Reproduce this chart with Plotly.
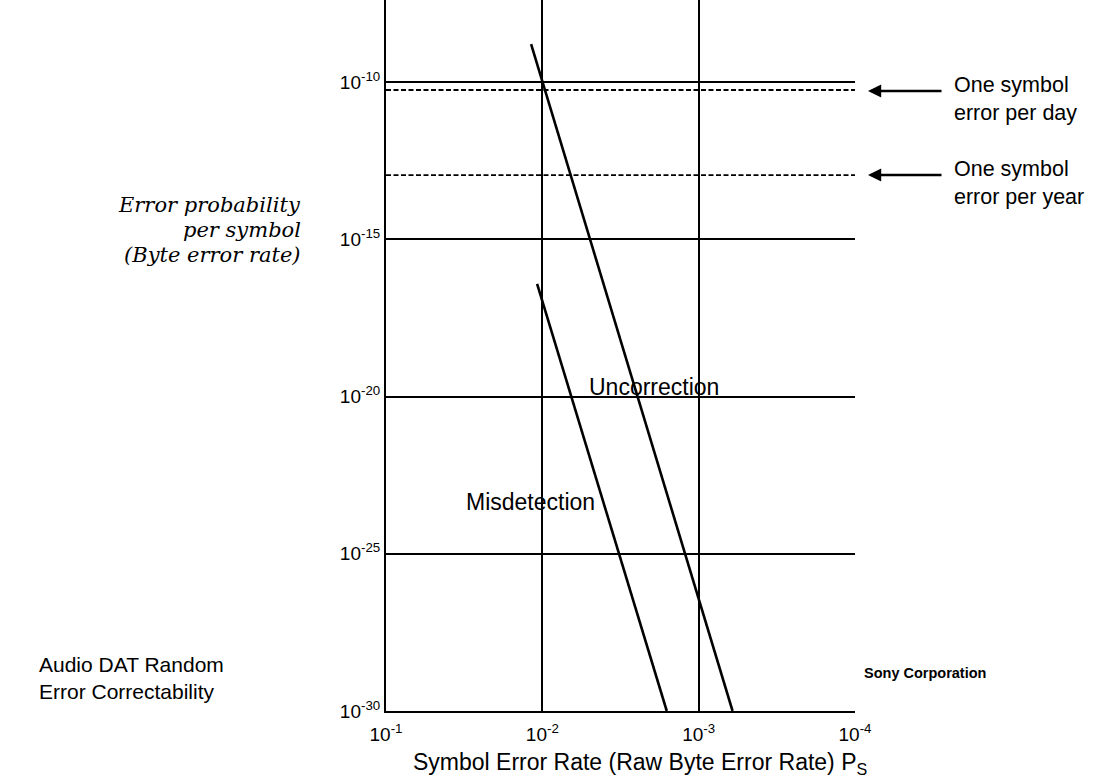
import plotly.graph_objects as go

# ---- data ----
x_ticks = [1e-1, 1e-2, 1e-3, 1e-4]
x_tick_text = ["10<sup>-1</sup>", "10<sup>-2</sup>", "10<sup>-3</sup>", "10<sup>-4</sup>"]
y_ticks = [1e-30, 1e-25, 1e-20, 1e-15, 1e-10]
y_tick_text = ["10<sup>-30</sup>", "10<sup>-25</sup>", "10<sup>-20</sup>", "10<sup>-15</sup>", "10<sup>-10</sup>"]

uncorrection_x = [1.18e-2, 6.07e-4]
uncorrection_y = [1.6e-9, 1e-30]
misdetection_x = [1.08e-2, 1.60e-3]
misdetection_y = [3.8e-17, 1e-30]

per_day_level = 5.6e-11
per_year_level = 1.1e-13
ref_x_span = [1e-1, 1e-4]

FONT = "Liberation Sans, Arial, Helvetica, sans-serif"
SERIF = "DejaVu Serif, serif"

fig = go.Figure()

# dashed reference levels
for lvl in [per_day_level, per_year_level]:
    fig.add_trace(go.Scatter(x=ref_x_span, y=[lvl, lvl], mode="lines",
                             line=dict(color="black", width=1.8, dash="5px,2.5px"),
                             hoverinfo="skip", showlegend=False))

fig.add_trace(go.Scatter(x=uncorrection_x, y=uncorrection_y, mode="lines",
                         line=dict(color="black", width=2.6), name="Uncorrection",
                         showlegend=False))
fig.add_trace(go.Scatter(x=misdetection_x, y=misdetection_y, mode="lines",
                         line=dict(color="black", width=2.6), name="Misdetection",
                         showlegend=False))

W, H = 1099, 783
L, R, T, B = 386, 244, 0, 72
pw = W - L - R
ph = H - T - B

def px(xp):
    return (xp - L) / pw

def py(yp):
    return (H - B - yp) / ph

fig.update_layout(
    width=W, height=H,
    margin=dict(l=L, r=R, t=T, b=B, pad=0),
    paper_bgcolor="white", plot_bgcolor="white",
    font=dict(family=FONT, color="black"),
    xaxis=dict(type="log", range=[-1, -4], tickvals=x_ticks, ticktext=x_tick_text,
               showgrid=True, gridcolor="black", gridwidth=2,
               showline=True, linecolor="black", linewidth=2,
               ticks="", ticklabelstandoff=5,
               tickfont=dict(size=19, family=FONT), zeroline=False),
    yaxis=dict(type="log", range=[-30, -7.39], tickvals=y_ticks, ticktext=y_tick_text,
               showgrid=True, gridcolor="black", gridwidth=2,
               showline=True, linecolor="black", linewidth=2,
               ticks="", tickfont=dict(size=19, family=FONT), zeroline=False),
)

ann = []
# arrows
for yp in [91, 175]:
    ann.append(dict(xref="paper", yref="paper", x=px(868), y=py(yp), ax=75, ay=0,
                    text="", showarrow=True, arrowhead=2, arrowsize=1.1,
                    arrowwidth=2.4, arrowcolor="black"))

ann += [
    dict(xref="paper", yref="paper", x=px(952), y=py(99), text="One symbol<br>error per day",
         showarrow=False, xanchor="left", yanchor="middle", align="left",
         font=dict(size=21.5, family=FONT)),
    dict(xref="paper", yref="paper", x=px(952), y=py(183), text="One symbol<br>error per year",
         showarrow=False, xanchor="left", yanchor="middle", align="left",
         font=dict(size=21.5, family=FONT)),
]
for txt, yp in [("Error probability", 205), ("per symbol", 230), ("(Byte error rate)", 255)]:
    ann.append(dict(xref="paper", yref="paper", x=px(303), y=py(yp), text="<i>%s</i>" % txt,
                    showarrow=False, xanchor="right", yanchor="middle",
                    font=dict(size=21, family=SERIF)))
ann += [
    dict(xref="paper", yref="paper", x=px(654), y=py(387), text="Uncorrection",
         showarrow=False, xanchor="center", yanchor="middle",
         font=dict(size=23, family=FONT)),
    dict(xref="paper", yref="paper", x=px(530), y=py(502), text="Misdetection",
         showarrow=False, xanchor="center", yanchor="middle",
         font=dict(size=23, family=FONT)),
    dict(xref="paper", yref="paper", x=px(862), y=py(673), text="<b>Sony Corporation</b>",
         showarrow=False, xanchor="left", yanchor="middle",
         font=dict(size=14.5, family=FONT)),
    dict(xref="paper", yref="paper", x=px(37), y=py(678),
         text="Audio DAT Random<br>Error Correctability",
         showarrow=False, xanchor="left", yanchor="middle", align="left",
         font=dict(size=21, family=FONT)),
    dict(xref="paper", yref="paper", x=px(640), y=py(764),
         text="Symbol Error Rate (Raw Byte Error Rate) P<sub>S</sub>",
         showarrow=False, xanchor="center", yanchor="middle",
         font=dict(size=23, family=FONT)),
]
fig.update_layout(annotations=ann)

fig.write_html("out.html", config={"displayModeBar": False},
               post_script="document.body.style.margin='0';")
